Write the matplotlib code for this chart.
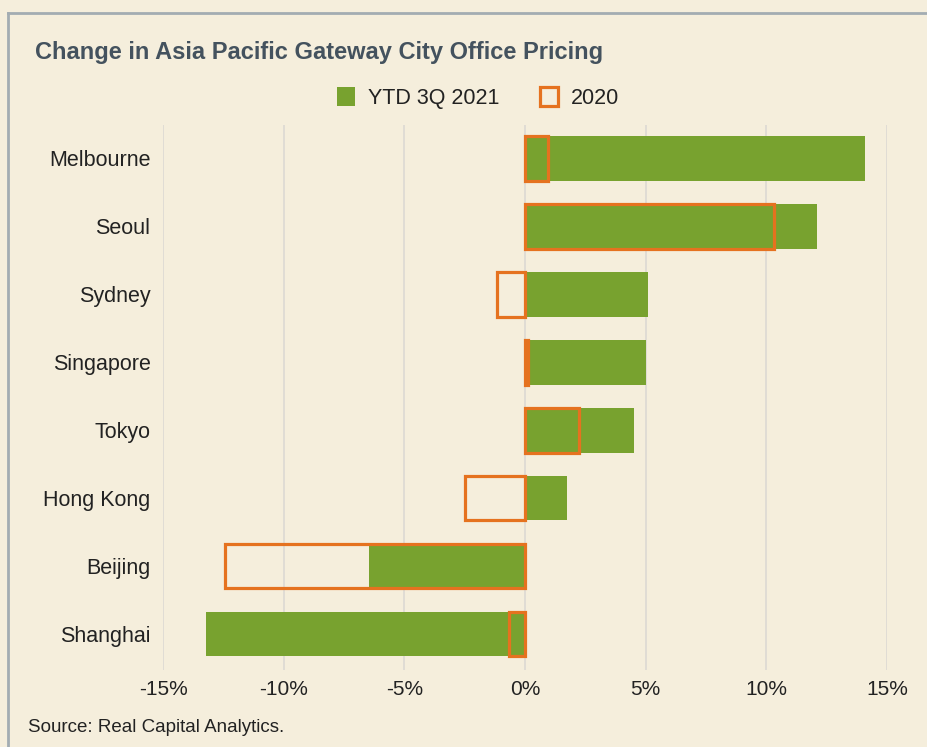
import matplotlib.pyplot as plt
from matplotlib.patches import Patch
from matplotlib.lines import Line2D

cities = ["Melbourne", "Seoul", "Sydney", "Singapore", "Tokyo",
          "Hong Kong", "Beijing", "Shanghai"]
ytd_2021 = [14.1, 12.1, 5.1, 5.0, 4.5, 1.75, -6.45, -13.2]
y2020 = [0.95, 10.3, -1.15, 0.12, 2.25, -2.5, -12.45, -0.65]
xticks = [-15, -10, -5, 0, 5, 10, 15]

green = "#78a22f"
orange = "#e5721f"
bg = "#f5eedc"
txt = "#222222"

plt.rcParams["font.family"] = ["Liberation Sans", "DejaVu Sans"]

fig = plt.figure(figsize=(9.27, 7.47), dpi=100, facecolor=bg)
ax = fig.add_axes([163 / 927, 1 - 670 / 747, 724 / 927, 545 / 747])
ax.set_facecolor(bg)

pos = list(range(len(cities)))
ax.barh(pos, ytd_2021, height=0.66, color=green, zorder=2)
ax.barh(pos, y2020, height=0.66, facecolor="none", edgecolor=orange,
        linewidth=2.3, zorder=3, clip_on=False)

ax.set_xlim(-15, 15)
ax.set_ylim(7.53, -0.49)
ax.set_xticks(xticks)
ax.set_xticklabels([f"{v}%" for v in xticks], fontsize=15, color=txt)
ax.set_yticks(pos)
ax.set_yticklabels(cities, fontsize=15.5, color=txt)
ax.tick_params(axis="both", length=0)
ax.tick_params(axis="y", pad=9)
ax.tick_params(axis="x", pad=7)
ax.grid(axis="x", color="#dedbd4", linewidth=1.3, zorder=0)
for s in ax.spines.values():
    s.set_visible(False)

# frame around the chart (left and top edges visible)
fig.add_artist(Line2D([8 / 927, 8 / 927], [0, 1 - 13 / 747],
                      color="#a3acb2", lw=2, transform=fig.transFigure))
fig.add_artist(Line2D([8 / 927, 1], [1 - 13 / 747, 1 - 13 / 747],
                      color="#a3acb2", lw=2, transform=fig.transFigure))

fig.text(35 / 927, 1 - 52 / 747, "Change in Asia Pacific Gateway City Office Pricing",
         fontsize=17, fontweight="bold", color="#44525e", va="center", ha="left")

handles = [Patch(facecolor=green, edgecolor="none", label="YTD 3Q 2021"),
           Patch(facecolor="none", edgecolor=orange, linewidth=2.3, label="2020")]
fig.legend(handles=handles, loc="center", bbox_to_anchor=(478 / 927, 1 - 98 / 747),
           ncol=2, frameon=False, fontsize=15.5, handlelength=0.85, handleheight=0.95,
           handletextpad=0.6, columnspacing=1.9, labelcolor=txt)

fig.text(28 / 927, 1 - 728 / 747, "Source: Real Capital Analytics.",
         fontsize=13.5, color=txt, va="center", ha="left")

fig.savefig("out.png", dpi=100, facecolor=bg)
